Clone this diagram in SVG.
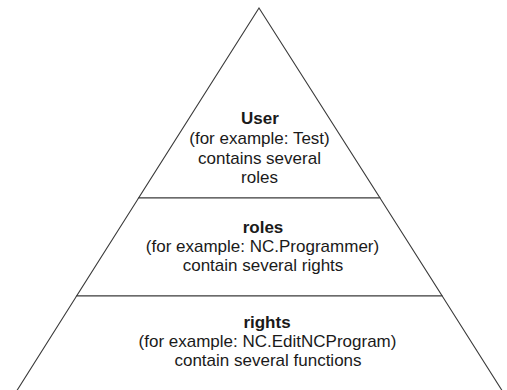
<svg xmlns="http://www.w3.org/2000/svg" width="507" height="390" viewBox="0 0 507 390">
<style>
.tier{fill:#ffffff;stroke:#3a3a3a;stroke-width:1.1}
.t{font-family:"Liberation Sans",Arial,sans-serif;font-size:17px;fill:#1a1a1a;text-anchor:middle}
.b{font-weight:bold}
</style>
<rect width="507" height="390" fill="#ffffff"/>
<g id="tier-user">
<polygon class="tier" points="259,8 380,198 138.6,198"/>
<text class="t b" x="260" y="124">User</text>
<text class="t" x="259.5" y="144">(for example: Test)</text>
<text class="t" x="259.5" y="164">contains several</text>
<text class="t" x="259.5" y="183">roles</text>
</g>
<g id="tier-roles">
<polygon class="tier" points="138.6,198 380,198 442.2,296 76.6,296"/>
<text class="t b" x="263" y="233">roles</text>
<text class="t" x="262.5" y="252">(for example: NC.Programmer)</text>
<text class="t" x="263" y="271">contain several rights</text>
</g>
<g id="tier-rights">
<polygon class="tier" points="76.6,296 442.2,296 505.5,396 13.5,396"/>
<text class="t b" x="267" y="328">rights</text>
<text class="t" x="267.5" y="347">(for example: NC.EditNCProgram)</text>
<text class="t" x="268" y="366">contain several functions</text>
</g>
<g id="connectors"></g>
</svg>
